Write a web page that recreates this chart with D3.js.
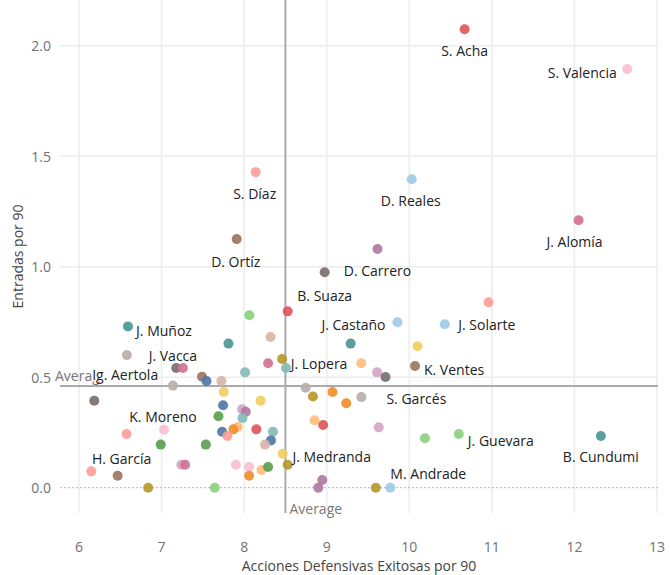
<html>
<head>
<meta charset="utf-8">
<style>
  body { margin: 0; background: #fff; }
  text { font-family: "Open Sans", sans-serif; }
  .grid line { stroke: #ececec; stroke-width: 1.5px; }
  .tick-label { fill: #707070; font-size: 14px; }
  .axis-title { fill: #444; font-size: 14px; }
  .player-label { fill: #222; font-size: 14px; }
  .avg-text { fill: #777; font-size: 14px; }
</style>
</head>
<body>
<svg width="670" height="575"></svg>
<script src="https://d3js.org/d3.v7.min.js"></script>
<script>
// players: name ("" = no label), defensive actions /90, tackles /90, team colour index
var names = [
  "S. Acha", "S. Valencia", "S. Díaz", "D. Ortíz", "D. Reales", "J. Alomía", "D. Carrero",
  "B. Suaza", "J. Muñoz", "J. Vacca", "Ig. Aertola", "J. Lopera", "J. Castaño", "J. Solarte",
  "K. Ventes", "S. Garcés", "J. Guevara", "B. Cundumi", "M. Andrade", "J. Medranda",
  "K. Moreno", "H. García",
  "", "", "", "", "", "", "", "", "", "", "", "", "", "", "", "", "", "", "", "",
  "", "", "", "", "", "", "", "", "", "", "", "", "", "", "", "", "", "", "", "",
  "", "", "", "", "", "", "", "", "", "", "", "", "", "", "", "", "", "", ""
];
var accDef = [
  10.67, 12.64, 8.14, 7.91, 10.03, 12.05, 9.615,
  8.527, 6.593, 6.58, 7.177, 8.507, 9.857, 10.43,
  10.07, 9.42, 10.6, 12.32, 9.77, 8.527,
  7.03, 6.468,
  8.975, 8.064, 8.32, 7.81, 8.46, 8.29, 8.011, 7.258, 7.49, 7.544,
  7.725, 7.137, 8.745, 7.753, 8.833, 9.07, 6.185, 8.20, 7.745, 7.975,
  8.02, 7.689, 7.98, 8.853, 8.957, 6.577, 7.923, 7.87, 7.733, 7.797,
  8.148, 8.349, 8.325, 8.253, 6.99, 7.536, 8.467, 7.24, 7.285, 7.90,
  8.06, 8.21, 8.29, 8.06, 6.149, 6.838, 7.644, 8.946, 8.898, 10.96,
  9.29, 10.10, 9.418, 9.61, 9.712, 9.237, 9.63, 10.19, 9.595
];
var entradas = [
  2.075, 1.895, 1.428, 1.125, 1.396, 1.21, 1.08,
  0.798, 0.73, 0.60, 0.542, 0.542, 0.749, 0.74,
  0.551, 0.41, 0.243, 0.234, 0.0, 0.104,
  0.262, 0.054,
  0.975, 0.78, 0.682, 0.652, 0.582, 0.563, 0.522, 0.542, 0.502, 0.483,
  0.483, 0.462, 0.452, 0.433, 0.413, 0.433, 0.394, 0.394, 0.373, 0.355,
  0.344, 0.323, 0.315, 0.305, 0.284, 0.243, 0.275, 0.264, 0.253, 0.234,
  0.264, 0.253, 0.214, 0.195, 0.195, 0.195, 0.154, 0.104, 0.104, 0.104,
  0.094, 0.08, 0.094, 0.054, 0.074, 0.0, 0.0, 0.035, 0.0, 0.839,
  0.652, 0.64, 0.563, 0.522, 0.501, 0.382, 0.273, 0.224, 0.0
];
var team = [
  10, 15, 11, 18, 1, 14, 16,
  10, 8, 13, 12, 9, 1, 1,
  18, 13, 5, 8, 1, 6,
  15, 18,
  12, 5, 19, 8, 6, 14, 9, 14, 18, 0,
  19, 13, 13, 7, 6, 2, 12, 7, 0, 17,
  16, 4, 9, 3, 10, 11, 3, 2, 0, 11,
  10, 9, 0, 19, 4, 4, 7, 17, 14, 15,
  15, 3, 4, 2, 11, 6, 5, 16, 16, 11,
  8, 7, 3, 17, 12, 2, 17, 5, 6
];
var xTicks = [6, 7, 8, 9, 10, 11, 12, 13];
var yTicks = [0, 0.5, 1, 1.5, 2];
var avgX = 8.5, avgY = 0.46;

// look
var palette = ["#4e79a7", "#a0cbe8", "#f28e2b", "#ffbe7d", "#59a14f", "#8cd17d", "#b6992d", "#f1ce63",
  "#499894", "#86bcb6", "#e15759", "#ff9d9a", "#79706e", "#bab0ac", "#d37295", "#fabfd2",
  "#b07aa1", "#d4a6c8", "#9d7660", "#d7b5a6"];
// label placement, pixels from the marker (text centre)
var labelOffset = {
  "S. Acha": [0, 21], "S. Valencia": [-45, 4], "S. Díaz": [-1, 21], "D. Ortíz": [-1, 22],
  "D. Reales": [-1, 21], "J. Alomía": [-4, 21], "D. Carrero": [0, 21], "B. Suaza": [37, -16],
  "J. Muñoz": [36, 4], "J. Vacca": [46, 0], "Ig. Aertola": [-51, 7], "J. Lopera": [33, -4],
  "J. Castaño": [-44, 2], "J. Solarte": [42, 0], "K. Ventes": [39, 4], "S. Garcés": [55, 1],
  "J. Guevara": [42, 6], "B. Cundumi": [0, 21], "M. Andrade": [38, -14], "J. Medranda": [44, -8],
  "K. Moreno": [-1, -13], "H. García": [4, -17]
};

var players = names.map(function(n, i) {
  return {name: n, x: accDef[i], y: entradas[i], team: team[i]};
});

var svg = d3.select("svg");
var plotL = 60, plotR = 658, plotT = 0, plotB = 513;

var x = d3.scaleLinear().domain([5.77, 13.012]).range([plotL, plotR]);
var y = d3.scaleLinear().domain([-0.1145, 2.207]).range([plotB, plotT]);

// grid
var grid = svg.append("g").attr("class", "grid");
grid.selectAll(".vx").data(xTicks).enter().append("line")
  .attr("x1", d => x(d)).attr("x2", d => x(d))
  .attr("y1", plotT).attr("y2", plotB);
grid.selectAll(".hy").data(yTicks.filter(d => d !== 0)).enter().append("line")
  .attr("x1", plotL).attr("x2", plotR)
  .attr("y1", d => y(d)).attr("y2", d => y(d));

// zero line
svg.append("line")
  .attr("x1", plotL).attr("x2", plotR)
  .attr("y1", y(0)).attr("y2", y(0))
  .attr("stroke", "#b5b5b5").attr("stroke-width", 1)
  .attr("stroke-dasharray", "2,2");

// tick labels
svg.selectAll(".xt").data(xTicks).enter().append("text")
  .attr("class", "tick-label")
  .attr("x", d => x(d)).attr("y", 546)
  .attr("text-anchor", "middle").attr("dominant-baseline", "central")
  .text(d => d);
svg.selectAll(".yt").data(yTicks).enter().append("text")
  .attr("class", "tick-label")
  .attr("x", 51).attr("y", d => y(d))
  .attr("text-anchor", "end").attr("dominant-baseline", "central")
  .text(d => d3.format(".1f")(d));

// average lines
svg.append("line")
  .attr("x1", plotL).attr("x2", plotR)
  .attr("y1", y(avgY)).attr("y2", y(avgY))
  .attr("stroke", "#aaa").attr("stroke-width", 2);
svg.append("line")
  .attr("x1", x(avgX)).attr("x2", x(avgX))
  .attr("y1", plotT).attr("y2", plotB)
  .attr("stroke", "#aaa").attr("stroke-width", 2);
svg.append("text").attr("class", "avg-text")
  .attr("x", x(avgX) + 4).attr("y", 508)
  .attr("dominant-baseline", "central")
  .text("Average");
svg.append("text").attr("class", "avg-text")
  .attr("x", 55).attr("y", y(avgY) - 11)
  .attr("dominant-baseline", "central")
  .text("Average");

// points
svg.append("g").selectAll("circle")
  .data(players)
  .enter().append("circle")
  .attr("cx", d => x(d.x))
  .attr("cy", d => y(d.y))
  .attr("r", 5)
  .attr("fill", d => palette[d.team])
  .attr("fill-opacity", 0.92);

// labels
var lab = svg.append("g").selectAll("g")
  .data(players.filter(d => d.name !== ""))
  .enter().append("g")
  .attr("transform", function(d) {
    var o = labelOffset[d.name] || [0, 21];
    return "translate(" + (x(d.x) + o[0]) + "," + (y(d.y) + o[1]) + ")";
  });
lab.append("text")
  .attr("class", "player-label")
  .attr("text-anchor", "middle")
  .attr("dominant-baseline", "central")
  .text(d => d.name);
// only the label sitting on the "Average" note hides it
lab.filter(d => d.name === "Ig. Aertola").insert("rect", "text")
  .each(function() {
    var bb = this.parentNode.querySelector("text").getBBox();
    d3.select(this)
      .attr("x", bb.x).attr("y", bb.y + 3)
      .attr("width", bb.width).attr("height", bb.height - 6)
      .attr("fill", "#fff");
  });

// axis titles
svg.append("text").attr("class", "axis-title")
  .attr("x", (plotL + plotR) / 2).attr("y", 565)
  .attr("text-anchor", "middle").attr("dominant-baseline", "central")
  .text("Acciones Defensivas Exitosas por 90");
svg.append("text").attr("class", "axis-title")
  .attr("transform", "translate(17," + ((plotT + plotB) / 2) + ") rotate(-90)")
  .attr("text-anchor", "middle").attr("dominant-baseline", "central")
  .text("Entradas por 90");
</script>
</body>
</html>
